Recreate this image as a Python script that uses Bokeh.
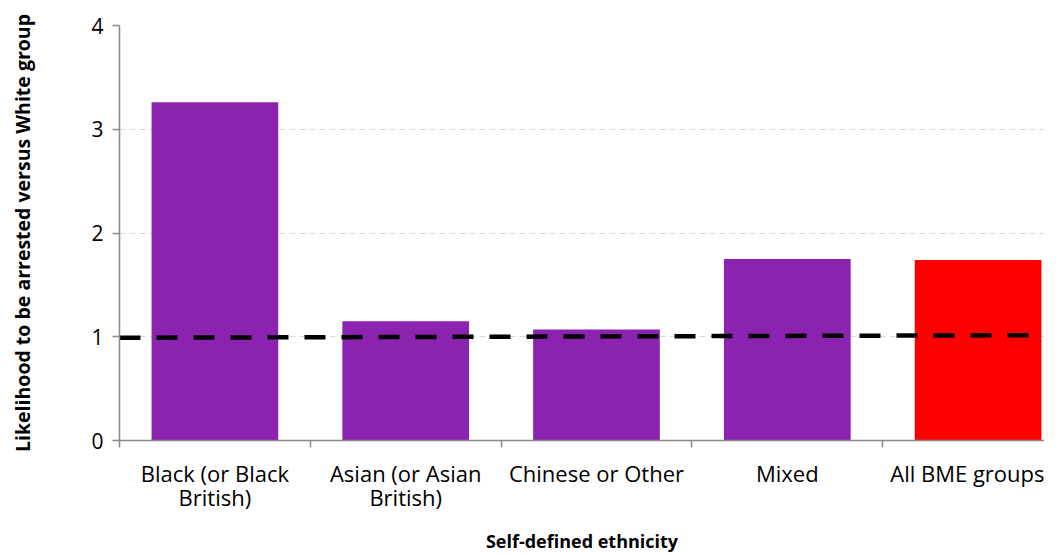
from bokeh.plotting import figure
from bokeh.models import Range1d, FixedTicker, ColumnDataSource
from bokeh.embed import file_html
from bokeh.resources import INLINE

categories = ["Black (or Black\nBritish)", "Asian (or Asian\nBritish)", "Chinese or Other", "Mixed", "All BME groups"]
likelihood = [3.26, 1.15, 1.07, 1.75, 1.74]
bar_colors = ["#8C22B0", "#8C22B0", "#8C22B0", "#8C22B0", "#FF0000"]
parity_x = [0, 5]
parity_y = [0.99, 1.016]
y_ticks = [0, 1, 2, 3, 4]

centers = [i + 0.5 for i in range(len(categories))]
boundaries = list(range(len(categories) + 1))

p = figure(frame_width=925, frame_height=415, output_backend="svg", toolbar_location=None,
           x_range=Range1d(0, 925 / 190.8), y_range=Range1d(0, 4))
p.min_border_left = 119
p.min_border_right = 0
p.min_border_top = 25
p.min_border_bottom = 0
p.outline_line_color = None

src = ColumnDataSource(dict(x=centers, top=likelihood, color=bar_colors))
p.vbar(x="x", top="top", width=0.664, color="color", source=src, line_color=None)
p.line(parity_x, parity_y, line_color="black", line_width=4.5, line_dash="21 16")

# x axis
p.xaxis.ticker = FixedTicker(ticks=centers, minor_ticks=boundaries)
p.xaxis.major_label_overrides = {c: lab for c, lab in zip(centers, categories)}
p.xaxis.major_tick_out = 0
p.xaxis.major_tick_in = 0
p.xaxis.minor_tick_out = 7
p.xaxis.minor_tick_in = 0
p.xaxis.minor_tick_line_color = "#898989"
p.xaxis.minor_tick_line_width = 1.5
p.xaxis.axis_line_color = "#898989"
p.xaxis.axis_line_width = 1.5
p.xaxis.major_label_text_font = "Open Sans"
p.xaxis.major_label_text_font_size = "22px"
p.xaxis.major_label_text_line_height = 0.82
p.xaxis.major_label_text_color = "black"
p.xaxis.major_label_standoff = 10
p.xaxis.axis_label = "Self-defined ethnicity"
p.xaxis.axis_label_text_font = "Open Sans"
p.xaxis.axis_label_text_font_style = "bold"
p.xaxis.axis_label_text_font_size = "18px"
p.xaxis.axis_label_text_line_height = 1.0
p.xaxis.axis_label_text_color = "black"
p.xaxis.axis_label_standoff = 14

# y axis
p.yaxis.ticker = FixedTicker(ticks=y_ticks)
p.yaxis.minor_tick_line_color = None
p.yaxis.major_tick_out = 7
p.yaxis.major_tick_in = 0
p.yaxis.major_tick_line_color = "#898989"
p.yaxis.major_tick_line_width = 1.5
p.yaxis.axis_line_color = "#898989"
p.yaxis.axis_line_width = 1.5
p.yaxis.major_label_text_font = "Open Sans"
p.yaxis.major_label_text_font_size = "21px"
p.yaxis.major_label_text_color = "black"
p.yaxis.major_label_standoff = 9
p.yaxis.axis_label = "Likelihood to be arrested versus White group"
p.yaxis.axis_label_text_font = "Open Sans"
p.yaxis.axis_label_text_font_style = "bold"
p.yaxis.axis_label_text_font_size = "19.5px"
p.yaxis.axis_label_text_color = "black"
p.yaxis.axis_label_standoff = 52

p.xgrid.grid_line_color = None
p.ygrid.grid_line_color = "#D9D9D9"
p.ygrid.grid_line_dash = "6 4"
p.ygrid.grid_line_width = 1

open("out.html", "w").write(file_html(p, INLINE))
